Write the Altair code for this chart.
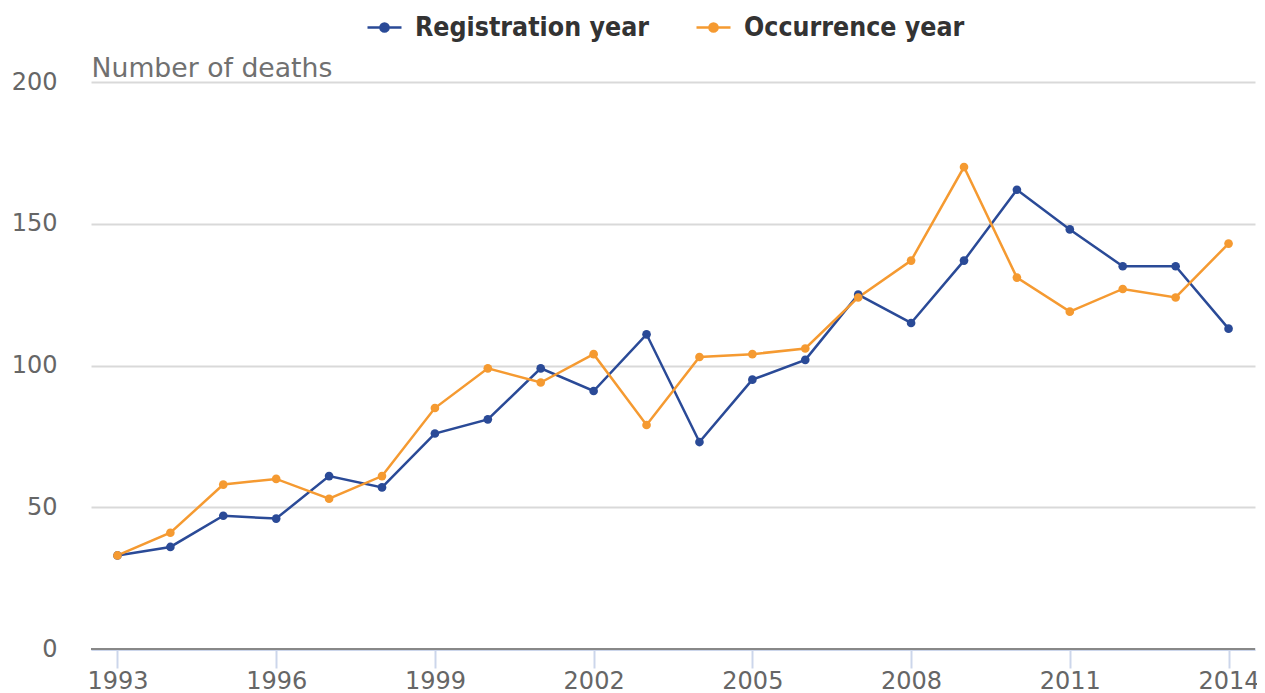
import altair as alt
import pandas as pd

years = list(range(1993, 2015))
registration = [33, 36, 47, 46, 61, 57, 76, 81, 99, 91, 111, 73, 95, 102, 125, 115, 137, 162, 148, 135, 135, 113]
occurrence = [33, 41, 58, 60, 53, 61, 85, 99, 94, 104, 79, 103, 104, 106, 124, 137, 170, 131, 119, 127, 124, 143]
series_names = ["Registration year", "Occurrence year"]
series_colors = ["#2a4a97", "#f59a31"]
x_tick_years = [1993, 1996, 1999, 2002, 2005, 2008, 2011, 2014]
y_ticks = [0, 50, 100, 150, 200]

rows = []
for name, vals in zip(series_names, [registration, occurrence]):
    for y, v in zip(years, vals):
        rows.append({"year": y, "deaths": v, "series": name, "order": series_names.index(name)})
df = pd.DataFrame(rows)

legend_symbol = "M -1 0 L 1 0 M -0.24 0 A 0.24 0.24 0 1 0 0.24 0 A 0.24 0.24 0 1 0 -0.24 0 Z"

x_enc = alt.X(
    "year:O",
    scale=alt.Scale(type="point", padding=0.5),
    axis=alt.Axis(
        values=x_tick_years, labelAngle=0, title=None,
        labelFont="DejaVu Sans", labelFontSize=24, labelColor="#666666",
        tickColor="#ccd6eb", tickSize=19, tickWidth=2,
        domainColor="#ccd6eb", domainWidth=3, labelPadding=1, grid=False,
    ),
)
y_enc = alt.Y(
    "deaths:Q",
    scale=alt.Scale(domain=[0, 200], nice=False),
    axis=alt.Axis(
        values=y_ticks, title="Number of deaths", titleAngle=0, titleAlign="left",
        titleBaseline="alphabetic", titleX=0, titleY=-6, titleFont="DejaVu Sans",
        titleFontSize=26.7, titleFontWeight="normal", titleColor="#707070",
        labelFont="DejaVu Sans", labelFontSize=24, labelColor="#666666",
        labelPadding=34, ticks=False, domain=False, grid=True,
        gridColor="#d9d9d9", gridWidth=2,
    ),
)
color_enc = alt.Color(
    "series:N",
    scale=alt.Scale(domain=series_names, range=series_colors),
    legend=alt.Legend(
        title=None, orient="none", direction="horizontal", legendX=275, legendY=-73,
        symbolType=legend_symbol, symbolSize=1156, symbolStrokeWidth=2.5,
        labelFont="DejaVu Sans Condensed", labelFontWeight="bold", labelLimit=0,
        labelFontSize=26.5, labelColor="#333333", labelOffset=12, columnPadding=42,
    ),
)

base = alt.Chart(df)
lines = base.mark_line(strokeWidth=2.5).encode(x=x_enc, y=y_enc, color=color_enc, order="order:Q")
points = base.mark_point(filled=True, size=75, opacity=1).encode(
    x=x_enc, y=y_enc,
    color=alt.Color("series:N", scale=alt.Scale(domain=series_names, range=series_colors), legend=None),
)
zero = alt.Chart(pd.DataFrame({"v": [0]})).mark_rule(color="#888888", strokeWidth=2).encode(
    y=alt.Y("v:Q", scale=alt.Scale(domain=[0, 200]))
)

chart = alt.layer(lines, points, zero).properties(
    width=1164, height=567,
    autosize=alt.AutoSizeParams(type="none"),
    padding={"left": 83, "top": 74, "right": 2, "bottom": 43},
).configure_view(stroke=None)

chart.save("out.html", embed_options={"renderer": "svg", "actions": False})
